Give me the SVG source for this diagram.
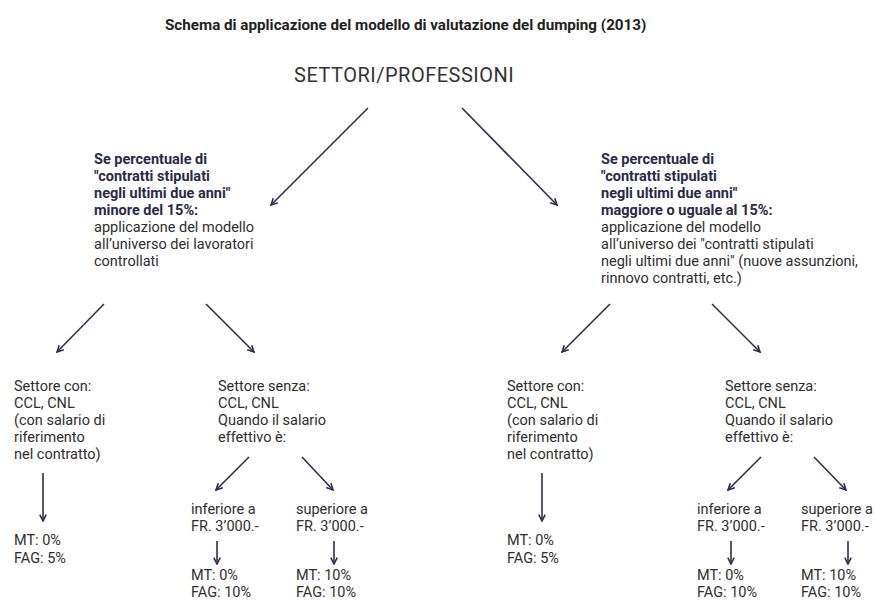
<svg xmlns="http://www.w3.org/2000/svg" width="876" height="601" viewBox="0 0 876 601">
<defs>
<marker id="ah" viewBox="0 0 10 10" refX="9" refY="5" markerWidth="8" markerHeight="8" markerUnits="userSpaceOnUse" orient="auto">
<path d="M1,1 L9,5 L1,9" fill="none" stroke="#2e2e52" stroke-width="2"/>
</marker>
<style>
.t{font-family:Roboto,"Open Sans",sans-serif;font-size:14.5px;fill:#2e2e2e}
.b{font-weight:bold;fill:#2a2a48}
.title{font-family:Roboto,"Open Sans",sans-serif;font-size:15.2px;font-weight:bold;fill:#222222}
.big{font-family:Roboto,"Open Sans",sans-serif;font-size:20px;letter-spacing:0.5px;fill:#333333}
.c line{stroke:#2e2e52;stroke-width:1.6;marker-end:url(#ah)}
</style>
</defs>
<rect width="876" height="601" fill="#ffffff"/>
<text class="title" x="165" y="30">Schema di applicazione del modello di valutazione del dumping (2013)</text>
<g id="root"><text class="big" x="294" y="82">SETTORI/PROFESSIONI</text></g>
<g id="left">
<text class="t" x="94"><tspan class="b" x="94" y="164">Se percentuale di</tspan><tspan class="b" x="94" y="181">"contratti stipulati</tspan><tspan class="b" x="94" y="198">negli ultimi due anni"</tspan><tspan class="b" x="94" y="215">minore del 15%:</tspan><tspan x="94" y="232">applicazione del modello</tspan><tspan x="94" y="249">all’universo dei lavoratori</tspan><tspan x="94" y="266">controllati</tspan></text>
</g>
<g id="right">
<text class="t"><tspan class="b" x="601" y="164">Se percentuale di</tspan><tspan class="b" x="601" y="181">"contratti stipulati</tspan><tspan class="b" x="601" y="198">negli ultimi due anni"</tspan><tspan class="b" x="601" y="215">maggiore o uguale al 15%:</tspan><tspan x="601" y="232">applicazione del modello</tspan><tspan x="601" y="249">all’universo dei "contratti stipulati</tspan><tspan x="601" y="266">negli ultimi due anni" (nuove assunzioni,</tspan><tspan x="601" y="283">rinnovo contratti, etc.)</tspan></text>
</g>
<g id="l-con"><text class="t"><tspan x="14" y="391">Settore con:</tspan><tspan x="14" y="408">CCL, CNL</tspan><tspan x="14" y="425">(con salario di</tspan><tspan x="14" y="442">riferimento</tspan><tspan x="14" y="459">nel contratto)</tspan></text></g>
<g id="l-con-res"><text class="t"><tspan x="14" y="545">MT: 0%</tspan><tspan x="14" y="563">FAG: 5%</tspan></text></g>
<g id="l-senza"><text class="t"><tspan x="218" y="391">Settore senza:</tspan><tspan x="218" y="408">CCL, CNL</tspan><tspan x="218" y="425">Quando il salario</tspan><tspan x="218" y="442">effettivo è:</tspan></text></g>
<g id="l-inf"><text class="t"><tspan x="191" y="514">inferiore a</tspan><tspan x="191" y="531">FR. 3’000.-</tspan></text></g>
<g id="l-sup"><text class="t"><tspan x="296" y="514">superiore a</tspan><tspan x="296" y="531">FR. 3’000.-</tspan></text></g>
<g id="l-inf-res"><text class="t"><tspan x="191" y="580">MT: 0%</tspan><tspan x="191" y="597">FAG: 10%</tspan></text></g>
<g id="l-sup-res"><text class="t"><tspan x="296" y="580">MT: 10%</tspan><tspan x="296" y="597">FAG: 10%</tspan></text></g>
<g id="r-con"><text class="t"><tspan x="507" y="391">Settore con:</tspan><tspan x="507" y="408">CCL, CNL</tspan><tspan x="507" y="425">(con salario di</tspan><tspan x="507" y="442">riferimento</tspan><tspan x="507" y="459">nel contratto)</tspan></text></g>
<g id="r-con-res"><text class="t"><tspan x="507" y="545">MT: 0%</tspan><tspan x="507" y="563">FAG: 5%</tspan></text></g>
<g id="r-senza"><text class="t"><tspan x="725" y="391">Settore senza:</tspan><tspan x="725" y="408">CCL, CNL</tspan><tspan x="725" y="425">Quando il salario</tspan><tspan x="725" y="442">effettivo è:</tspan></text></g>
<g id="r-inf"><text class="t"><tspan x="697" y="514">inferiore a</tspan><tspan x="697" y="531">FR. 3’000.-</tspan></text></g>
<g id="r-sup"><text class="t"><tspan x="801" y="514">superiore a</tspan><tspan x="801" y="531">FR. 3’000.-</tspan></text></g>
<g id="r-inf-res"><text class="t"><tspan x="697" y="580">MT: 0%</tspan><tspan x="697" y="597">FAG: 10%</tspan></text></g>
<g id="r-sup-res"><text class="t"><tspan x="801" y="580">MT: 10%</tspan><tspan x="801" y="597">FAG: 10%</tspan></text></g>
<g id="connectors" class="c">
<line x1="368" y1="108" x2="271" y2="205"/>
<line x1="462" y1="108" x2="557" y2="205"/>
<line x1="104" y1="304" x2="57" y2="352"/>
<line x1="206" y1="304" x2="254" y2="352"/>
<line x1="610" y1="304" x2="562" y2="352"/>
<line x1="712" y1="304" x2="760" y2="352"/>
<line x1="43" y1="473" x2="43" y2="521"/>
<line x1="542" y1="473" x2="542" y2="521"/>
<line x1="249" y1="457" x2="216" y2="490"/>
<line x1="302" y1="457" x2="333" y2="490"/>
<line x1="761" y1="457" x2="728" y2="490"/>
<line x1="814" y1="457" x2="846" y2="490"/>
<line x1="217" y1="541" x2="217" y2="564"/>
<line x1="334" y1="541" x2="334" y2="564"/>
<line x1="731" y1="541" x2="731" y2="564"/>
<line x1="848" y1="541" x2="848" y2="564"/>
</g>
</svg>
